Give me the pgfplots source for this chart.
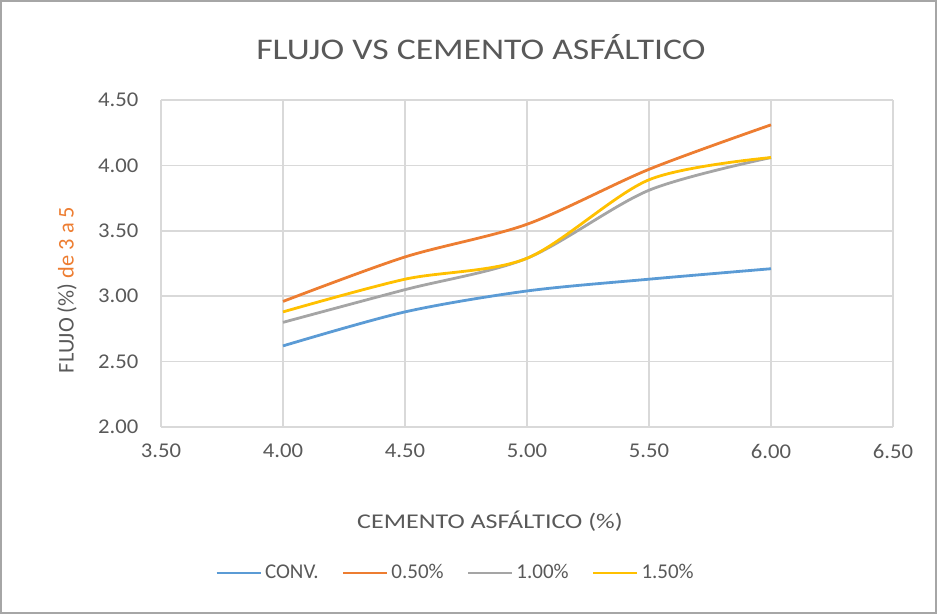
\documentclass[border=0pt]{standalone}
\usepackage{fontspec}
\setmainfont{Carlito}
\usepackage{pgfplots}
\pgfplotsset{compat=1.18}
\definecolor{sConv}{HTML}{5B9BD5}
\definecolor{sA}{HTML}{ED7D31}
\definecolor{sB}{HTML}{A5A5A5}
\definecolor{sC}{HTML}{FFC000}
\definecolor{txt}{HTML}{595959}
\definecolor{gridc}{HTML}{D9D9D9}

\begin{document}
\begin{tikzpicture}[x=0.5pt,y=0.5pt]
% chart frame (937 x 614 px, 1px = 0.5pt)
\draw[black!35, line width=1pt] (1,1) rectangle (936,613);
\begin{axis}[
    at={(161pt*0.5,187pt*0.5)}, anchor=south west,
    scale only axis,
    width=366pt, height=163.5pt,
    xmin=3.5, xmax=6.5, ymin=2, ymax=4.5,
    xtick={3.5,4,...,6.5},
    ytick={2,2.5,...,4.5},
    grid=major,
    grid style={gridc, line width=0.8pt},
    axis line style={draw=none},
    major tick length=0pt,
    tick label style={font=\fontsize{10.5}{12}\selectfont, text=txt, xscale=1.08},
    xticklabel style={yshift=-5pt},
    yticklabel style={xshift=-7pt},
    /pgf/number format/.cd, fixed, fixed zerofill, precision=2, assume math mode=true,
    /pgfplots/.cd,
    legend columns=4,
    legend style={at={(0.403,-0.4465)}, anchor=center, draw=none,
        font=\fontsize{10.5}{12}\selectfont, text=txt,
        nodes={inner xsep=1.5pt},
        /tikz/every even column/.append style={column sep=10pt}},
    legend image post style={line width=1.4pt},
    legend image code/.code={\draw[#1] (0pt,0pt) -- (22pt,0pt);},
    every axis plot/.append style={line width=1.4pt, smooth, no markers},
]
\addplot[sConv] coordinates {(4.0,2.62) (4.5,2.88) (5.0,3.04) (5.5,3.13) (6.0,3.21)};
\addplot[sA] coordinates {(4.0,2.96) (4.5,3.30) (5.0,3.55) (5.5,3.97) (6.0,4.31)};
\addplot[sB] coordinates {(4.0,2.80) (4.5,3.05) (5.0,3.29) (5.5,3.81) (6.0,4.06)};
\addplot[sC] coordinates {(4.0,2.88) (4.5,3.13) (5.0,3.29) (5.5,3.89) (6.0,4.06)};
\legend{CONV.,0.50\%,1.00\%,1.50\%}
\end{axis}
\node[text=txt, font=\fontsize{15}{18}\selectfont, xscale=1.19] at (481,567) {FLUJO VS CEMENTO ASFÁLTICO};
\node[text=txt, font=\fontsize{10.5}{12}\selectfont, xscale=1.24] at (490,93) {CEMENTO ASFÁLTICO (\%)};
\node[rotate=90, font=\fontsize{11.2}{12}\selectfont] at (67,324) {\textcolor{txt}{FLUJO (\%)} \textcolor{sA}{de 3 a 5}};
\end{tikzpicture}
\end{document}
